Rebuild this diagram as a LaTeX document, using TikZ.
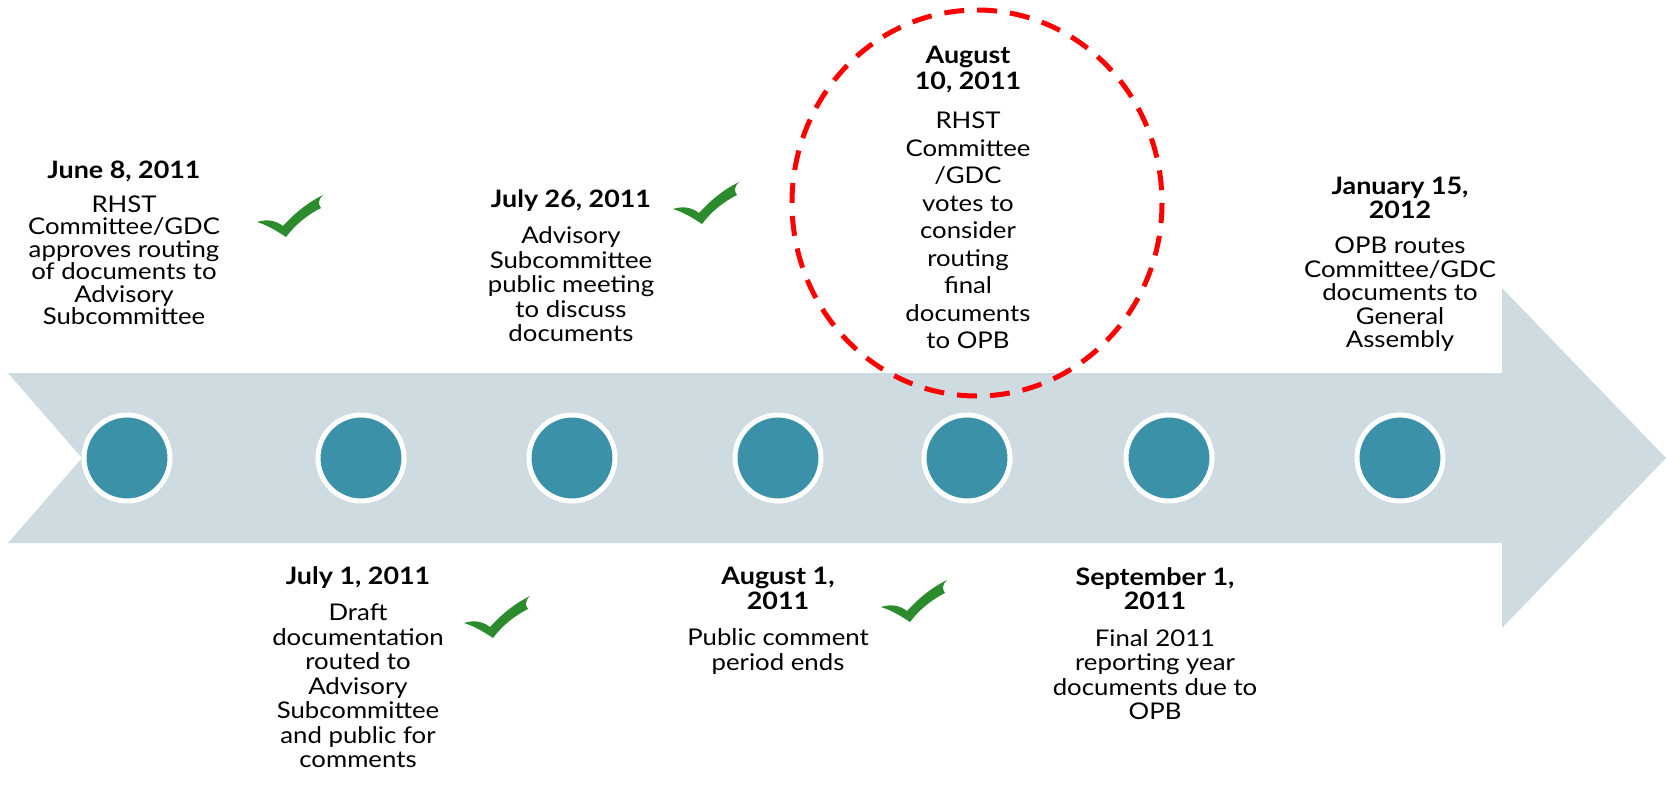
\documentclass[tikz,border=0pt]{standalone}
\usepackage{fontspec}
\setmainfont{Lato}[FakeStretch=1.12]
\definecolor{arrowblue}{HTML}{CEDBE1}
\definecolor{dotteal}{HTML}{3A91A8}
\definecolor{tickgreen}{HTML}{2C8B2C}
\definecolor{hlred}{HTML}{FF0000}
\newcommand\dt[1]{{\fontsize{24}{25}\selectfont\bfseries #1}}
\begin{document}
\begin{tikzpicture}[x=1pt,y=-1pt,
  dot/.style={circle, fill=dotteal, draw=white, line width=5pt, minimum size=86pt, inner sep=0pt},
  evt/.style={align=center, inner sep=0pt, text=black, font=\fontsize{23}{24.5}\selectfont},
  hlring/.style={draw=hlred, line width=5pt, dash pattern=on 20pt off 13pt},
  tick/.pic={\fill[tickgreen] (0,27) .. controls (10,24) and (18,25) .. (26,31)
      .. controls (38,18) and (50,8) .. (66,0)
      .. controls (61,5) and (61,9) .. (64,13)
      .. controls (50,20) and (38,30) .. (29,42)
      .. controls (20,36) and (10,30) .. (0,27) -- cycle;}
]
\useasboundingbox (0,0) rectangle (1666,790);
% timeline arrow
\fill[arrowblue] (8,373) -- (1502,373) -- (1502,288) -- (1666,458) -- (1502,628)
  -- (1502,543) -- (8,543) -- (82,458) -- cycle;
% dots
\foreach \i/\x in {1/127,2/361,3/572,4/778,5/967,6/1169,7/1400}
  \node[dot] (c\i) at (\x,458) {};
% highlight ring
\draw[hlring] (977,203) ellipse [x radius=185, y radius=193];
% events
\node[evt, anchor=south, font=\fontsize{23}{22.5}\selectfont] (t1) at (124,325) {\dt{June 8, 2011}\\[11pt]RHST\\Committee/GDC\\approves routing\\of documents to\\Advisory\\Subcommittee};
\node[evt, anchor=north] (t2) at (358,566) {\dt{July 1, 2011}\\[12pt]Draft\\documentation\\routed to\\Advisory\\Subcommittee\\and public for\\comments};
\node[evt, anchor=south] (t3) at (571,342) {\dt{July 26, 2011}\\[12pt]Advisory\\Subcommittee\\public meeting\\to discuss\\documents};
\node[evt, anchor=north] (t4) at (778,567) {\dt{August 1,}\\\dt{2011}\\[12pt]Public comment\\period ends};
\node[evt, anchor=north, font=\fontsize{23}{27.5}\selectfont] (t5) at (968,46) {\dt{August}\\[-2pt]\dt{10, 2011}\\[12pt]RHST\\Committee\\/GDC\\votes to\\consider\\routing\\final\\documents\\to OPB};
\node[evt, anchor=north] (t6) at (1155,567) {\dt{September 1,}\\\dt{2011}\\[12pt]Final 2011\\reporting year\\documents due to\\OPB};
\node[evt, anchor=south, font=\fontsize{23}{23.5}\selectfont] (t7) at (1400,352) {\dt{January 15,}\\\dt{2012}\\[12pt]OPB routes\\Committee/GDC\\documents to\\General\\Assembly};
% check marks
\pic (k1) at (257,195) {tick};
\pic (k2) at (673,182) {tick};
\pic (k3) at (464,596) {tick};
\pic (k4) at (881,580) {tick};
\end{tikzpicture}
\end{document}
